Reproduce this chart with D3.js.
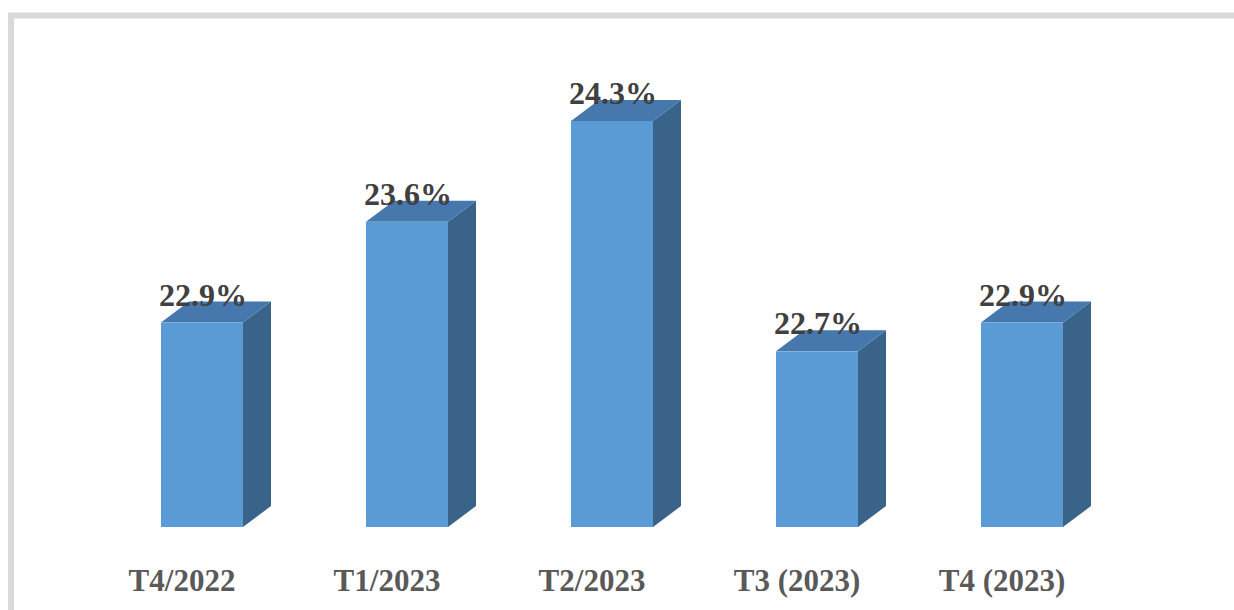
<!DOCTYPE html>
<html>
<head>
<meta charset="utf-8">
<script src="https://cdn.jsdelivr.net/npm/d3@7"></script>
<style>
body { margin: 0; background: #fff; }
</style>
</head>
<body>
<script>
var categories = ["T4/2022", "T1/2023", "T2/2023", "T3 (2023)", "T4 (2023)"];
var values = [22.9, 23.6, 24.3, 22.7, 22.9];
var valueLabels = ["22.9%", "23.6%", "24.3%", "22.7%", "22.9%"];

var W = 1234, H = 610;
var svg = d3.select("body").append("svg")
.attr("width", W)
.attr("height", H);

// frame (top and left only)
svg.append("path")
.attr("d", "M11,610 L11,15.5 L1234,15.5")
.attr("fill", "none")
.attr("stroke", "#d9d9d9")
.attr("stroke-width", 6);

var x = d3.scaleBand()
.domain(categories)
.range([161, 1063])
.paddingInner(0.6)
.paddingOuter(0);

var baseY = 527;
var y = d3.scaleLinear()
.domain([21.48, 24.3])
.range([baseY, 121]);

var dx = 28, dy = -21;
var bw = x.bandwidth();

var g = svg.selectAll("g.bar")
.data(values)
.enter().append("g")
.attr("class", "bar");

// side face
g.append("path")
.attr("d", function(d, i) {
  var x1 = x(categories[i]) + bw, t = y(d);
  return "M" + x1 + "," + t + " L" + (x1 + dx) + "," + (t + dy) +
    " L" + (x1 + dx) + "," + (baseY + dy) + " L" + x1 + "," + baseY + "Z";
})
.attr("fill", "#3a6389");

// top face
g.append("path")
.attr("d", function(d, i) {
  var x0 = x(categories[i]), t = y(d);
  return "M" + x0 + "," + t + " L" + (x0 + dx) + "," + (t + dy) +
    " L" + (x0 + bw + dx) + "," + (t + dy) + " L" + (x0 + bw) + "," + t + "Z";
})
.attr("fill", "#4677ad");

// front face
g.append("rect")
.attr("x", function(d, i) { return x(categories[i]); })
.attr("y", function(d) { return y(d); })
.attr("width", bw)
.attr("height", function(d) { return baseY - y(d); })
.attr("fill", "#5b9bd5");

// value labels
g.append("text")
.attr("x", function(d, i) { return x(categories[i]) + bw / 2 + 1; })
.attr("y", function(d) { return y(d) - 17; })
.attr("text-anchor", "middle")
.attr("font-family", "'Liberation Serif', 'Times New Roman', serif")
.attr("font-weight", "bold")
.attr("font-size", 32)
.attr("fill", "#404040")
.text(function(d, i) { return valueLabels[i]; });

// category labels
svg.selectAll("text.cat")
.data(categories)
.enter().append("text")
.attr("class", "cat")
.attr("x", function(d) { return x(d) + bw / 2 - 20; })
.attr("y", 591)
.attr("text-anchor", "middle")
.attr("font-family", "'Liberation Serif', 'Times New Roman', serif")
.attr("font-weight", "bold")
.attr("font-size", 31)
.attr("fill", "#595959")
.text(function(d) { return d; });
</script>
</body>
</html>
